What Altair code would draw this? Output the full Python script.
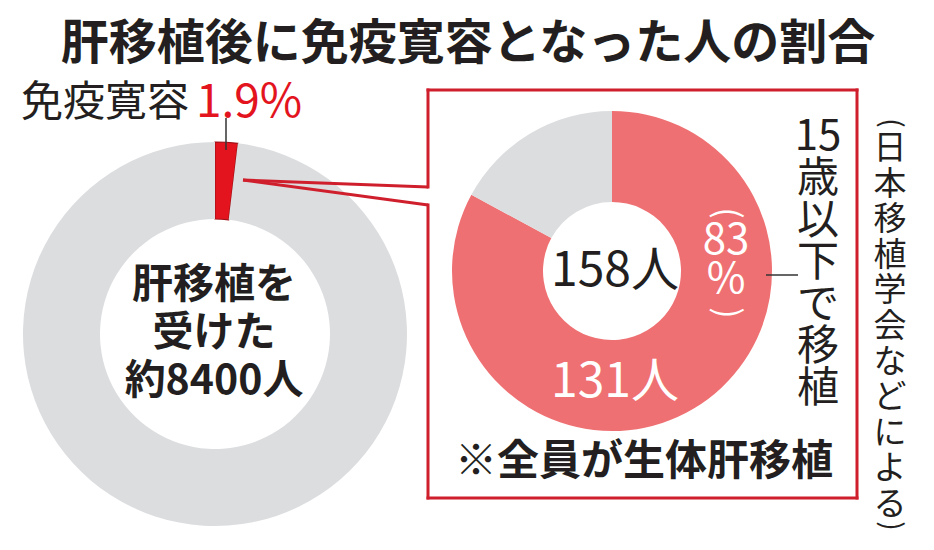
import altair as alt
import pandas as pd

# ---- data ----
left_categories = ["免疫寛容", "その他"]
left_values = [1.9, 98.1]
left_order = [0, 1]

right_categories = ["15歳以下で移植", "16歳以上"]
right_values = [131, 27]
right_order = [0, 1]

title_text = "肝移植後に免疫寛容となった人の割合"
tolerance_label = "免疫寛容"
tolerance_pct = "1.9%"
left_center_lines = ["肝移植を", "受けた", "約8400人"]
right_total_label = "158人"
right_part_label = "131人"
right_pct_lines = ["83", "%"]
age_lines = ["15", "歳", "以", "下", "で", "移", "植"]
note_text = "※全員が生体肝移植"
source_lines = ["日", "本", "移", "植", "学", "会", "な", "ど", "に", "よ", "る"]

FONT = "Noto Sans CJK JP"
INK = "#231f20"
RED = "#e3141d"
BOX_RED = "#d01f2c"
SALMON = "#ef7072"
GRAY = "#dcdddf"

left_df = pd.DataFrame({"cat": left_categories, "value": left_values, "ord": left_order})
right_df = pd.DataFrame({"cat": right_categories, "value": right_values, "ord": right_order})

base = alt.Chart()

left_arc = alt.Chart(left_df).mark_arc(radius=192, radius2=115, strokeWidth=1.2).encode(
    x=alt.value(215), y=alt.value(334),
    theta=alt.Theta("value:Q", stack=True),
    order=alt.Order("ord:Q"),
    color=alt.Color("cat:N", scale=alt.Scale(domain=left_categories, range=[RED, GRAY]), legend=None),
    stroke=alt.condition(alt.datum.cat == left_categories[0], alt.value("#9e0f16"), alt.value("transparent")),
)

right_arc = alt.Chart(right_df).mark_arc(radius=160, radius2=69).encode(
    x=alt.value(612), y=alt.value(271),
    theta=alt.Theta("value:Q", stack=True),
    order=alt.Order("ord:Q"),
    color=alt.Color("cat:N", scale=alt.Scale(domain=right_categories, range=[SALMON, GRAY]), legend=None),
)


def txt(text, x, y, size, color=INK, weight="normal", align="center", line_height=None, angle=None):
    # for multi-line texts, y is the centre of the first line
    kw = dict(text=text, font=FONT, fontSize=size, color=color, fontWeight=weight,
              align=align, baseline="middle")
    if line_height is not None:
        kw["lineHeight"] = line_height
    if angle is not None:
        kw["angle"] = angle
    return base.mark_text(**kw).encode(x=alt.value(x), y=alt.value(y))


def seg(x1, y1, x2, y2, color=BOX_RED, width=3, cap="square"):
    return base.mark_rule(color=color, strokeWidth=width, strokeCap=cap).encode(
        x=alt.value(x1), y=alt.value(y1), x2=alt.value(x2), y2=alt.value(y2))


layers = [
    left_arc,
    right_arc,
    # box and connectors
    seg(428, 90, 857, 90),
    seg(857, 90, 857, 498),
    seg(428, 498, 857, 498),
    seg(428, 90, 428, 187),
    seg(428, 205, 428, 498),
    seg(243, 180, 428, 187, cap="butt"),
    seg(243, 180, 428, 205, cap="butt"),
    # leader lines
    seg(226, 118, 226, 150, color="#333333", width=1.5, cap="butt"),
    seg(766, 275, 798, 275, color="#333333", width=1.5, cap="butt"),
    # texts
    txt(title_text, 468, 45, 48, weight="bold"),
    txt(tolerance_label, 21, 103, 42, align="left"),
    txt(tolerance_pct, 196, 103, 46, color=RED, align="left"),
    txt(left_center_lines, 214, 286, 41, weight="bold", line_height=48),
    txt(right_total_label, 615, 272, 48),
    txt(right_part_label, 615, 383, 48, color="white"),
    # vertical "(83%)"
    txt("(", 726, 213, 34, color="white", angle=90),
    txt(right_pct_lines, 726, 241, 42, color="white", line_height=39),
    txt(")", 726, 313, 34, color="white", angle=90),
    # vertical "15歳以下で移植"
    txt(age_lines, 818, 137, 42, line_height=42),
    txt(note_text, 644, 462, 42, weight="bold"),
    # vertical source "(日本移植学会などによる)"
    txt("(", 890, 123, 28, angle=90),
    txt(source_lines, 890, 149, 33, line_height=35.6),
    txt(")", 890, 526, 28, angle=90),
]

chart = alt.layer(*layers, data=pd.DataFrame({"d": [0]})).resolve_scale(
    theta="independent", color="independent"
).properties(
    width=934, height=550, padding=0, autosize="none", background="white"
).configure_view(strokeWidth=0)

chart.save("out.html", embed_options={"renderer": "svg", "actions": False})
